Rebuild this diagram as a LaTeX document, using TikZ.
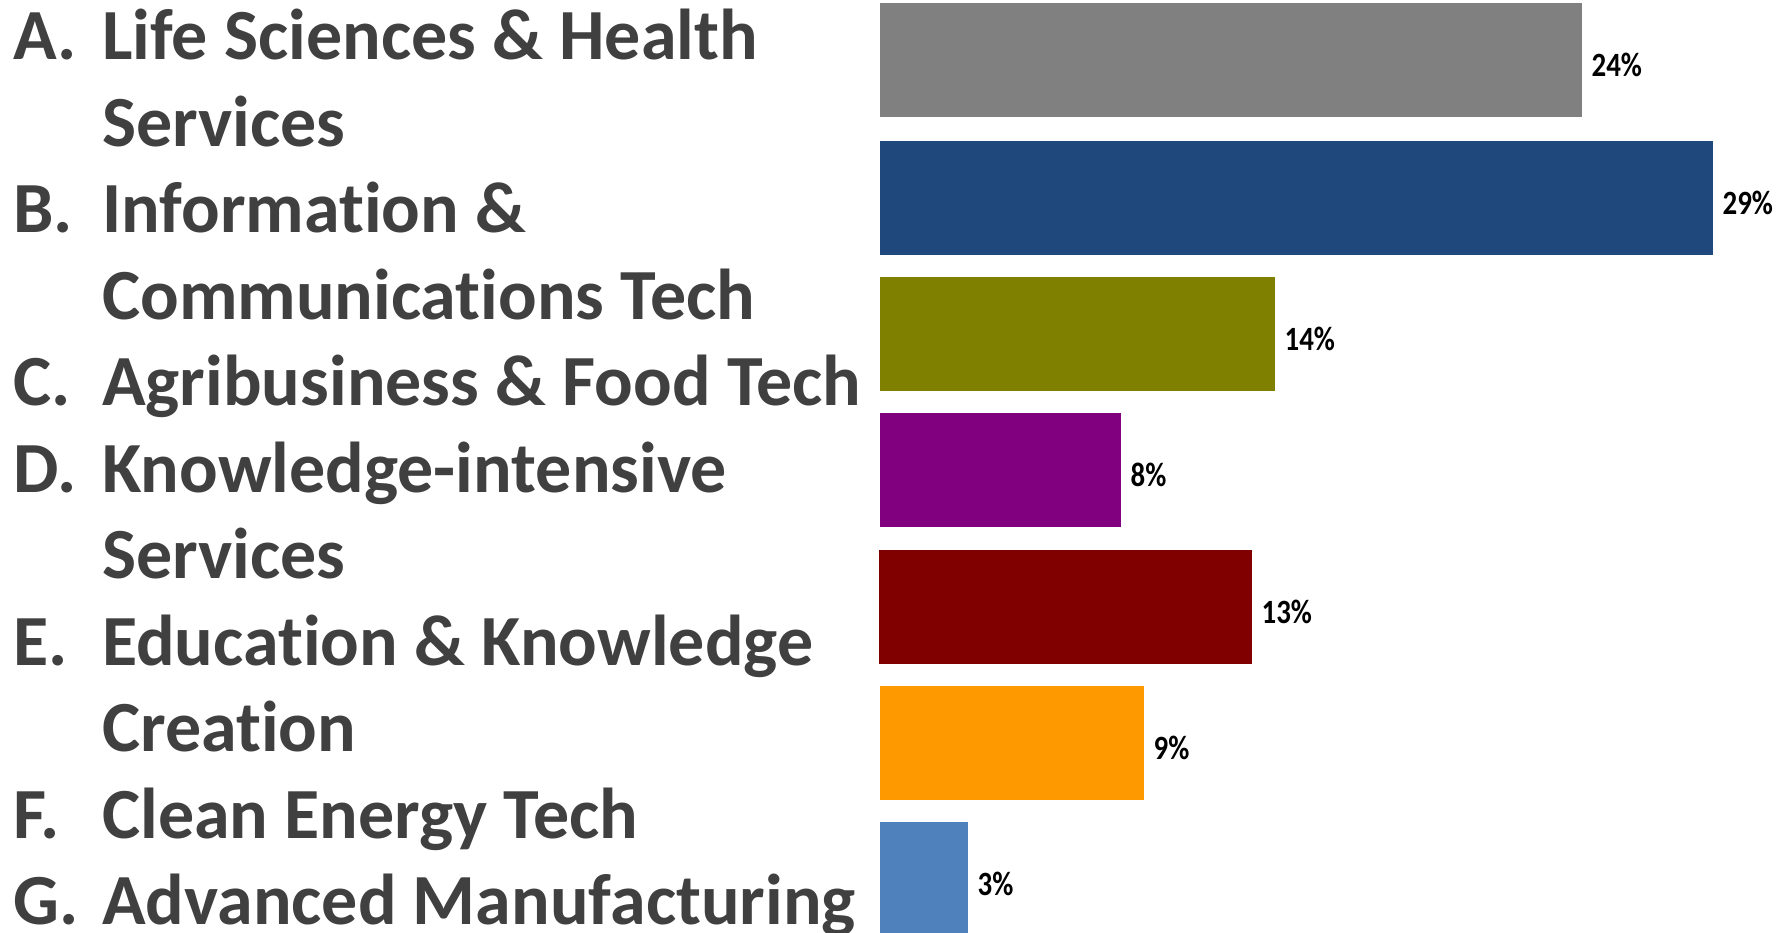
\documentclass[tikz,border=0pt]{standalone}
\usepackage{fontspec}
\setmainfont[Ligatures=NoCommon]{Carlito}
\newfontfamily\pctfont[FakeStretch=0.85]{Carlito}
\usepackage{xcolor}
\usetikzlibrary{positioning}

\definecolor{labelgray}{HTML}{404040}
\definecolor{barA}{HTML}{808080}
\definecolor{barB}{HTML}{1F497D}
\definecolor{barC}{HTML}{808000}
\definecolor{barD}{HTML}{800080}
\definecolor{barE}{HTML}{800000}
\definecolor{barF}{HTML}{FF9900}
\definecolor{barG}{HTML}{4F81BD}

\tikzset{
  letter/.style={anchor=base west,inner sep=0pt,text=labelgray,font=\fontsize{72}{86}\selectfont\bfseries},
  sector/.style={letter},
  bar/.style={anchor=north west,inner sep=0pt,minimum height=114pt},
  pct/.style={anchor=west,inner sep=0pt,font=\pctfont\fontsize{34}{40}\selectfont\bfseries,yshift=-5pt}
}

\begin{document}
\begin{tikzpicture}[x=1pt,y=-1pt]
\useasboundingbox (0,0) rectangle (1785,932);
% sector names
\node[letter] (letA) at (13,59) {A.};
\node[sector] (secA) at (102,59) {Life Sciences \& Health};
\node[sector] (secA2) at (102,146) {Services};
\node[letter] (letB) at (13,232) {B.};
\node[sector] (secB) at (102,232) {Information \&};
\node[sector] (secB2) at (102,319) {Communications Tech};
\node[letter] (letC) at (13,405) {C.};
\node[sector] (secC) at (102,405) {Agribusiness \& Food Tech};
\node[letter] (letD) at (13,492) {D.};
\node[sector] (secD) at (102,492) {Knowledge-intensive};
\node[sector] (secD2) at (102,578) {Services};
\node[letter] (letE) at (13,665) {E.};
\node[sector] (secE) at (102,665) {Education \& Knowledge};
\node[sector] (secE2) at (102,751) {Creation};
\node[letter] (letF) at (13,838) {F.};
\node[sector] (secF) at (102,838) {Clean Energy Tech};
\node[letter] (letG) at (13,924) {G.};
\node[sector] (secG) at (102,924) {Advanced Manufacturing};
% bars
\node[bar,fill=barA,minimum width=702pt] (barA) at (880,3) {};
\node[bar,fill=barB,minimum width=833pt] (barB) at (880,141) {};
\node[bar,fill=barC,minimum width=395pt] (barC) at (880,277) {};
\node[bar,fill=barD,minimum width=241pt] (barD) at (880,413) {};
\node[bar,fill=barE,minimum width=373pt] (barE) at (879,550) {};
\node[bar,fill=barF,minimum width=264pt] (barF) at (880,686) {};
\node[bar,fill=barG,minimum width=88pt] (barG) at (880,822) {};
% values
\node[pct,right=9pt of barA.east] (valA) {24\%};
\node[pct,right=9pt of barB.east] (valB) {29\%};
\node[pct,right=9pt of barC.east] (valC) {14\%};
\node[pct,right=9pt of barD.east] (valD) {8\%};
\node[pct,right=9pt of barE.east] (valE) {13\%};
\node[pct,right=9pt of barF.east] (valF) {9\%};
\node[pct,right=9pt of barG.east] (valG) {3\%};
\end{tikzpicture}
\end{document}
